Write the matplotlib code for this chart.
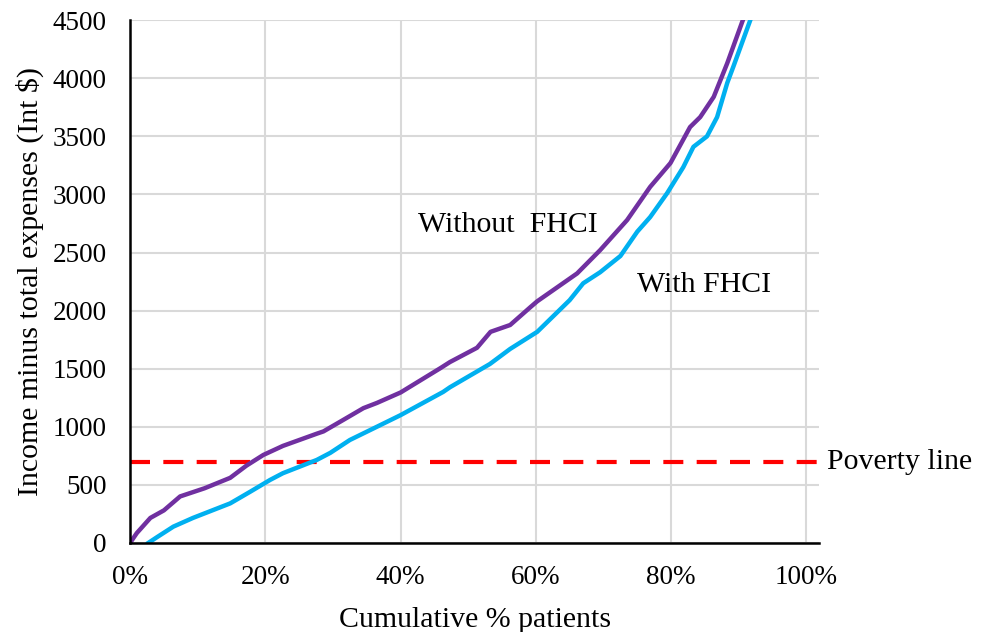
import numpy as np
import matplotlib
matplotlib.use('Agg')
import matplotlib.pyplot as plt
from matplotlib.ticker import FuncFormatter

plt.rcParams['font.family'] = ['Liberation Serif', 'DejaVu Serif']

# cumulative % of patients vs income minus total expenses
without_x = [0, 1, 3, 5, 7.4, 11, 14.8, 17.2, 19.7, 22.6, 27.6, 28.6, 31.5, 34.5, 36.5,
             40, 45.9, 47.3, 51.3, 53.3, 56.2, 59.2, 60.2, 66.1, 69.5, 73.5, 76.9, 79.9,
             82.8, 84.3, 86.3, 88.3, 90.6]
without_y = [0, 85, 215, 280, 400, 470, 560, 665, 757, 835, 940, 960, 1058, 1160, 1205,
             1295, 1505, 1557, 1680, 1817, 1876, 2030, 2080, 2320, 2520, 2780, 3065, 3270,
             3580, 3666, 3840, 4130, 4500]

with_x = [2.7, 4, 6.4, 9.3, 14.8, 17.75, 20.7, 22.6, 27.6, 29.6, 32.5, 36.5, 40, 46.3, 47.3,
          53.2, 56.2, 60.2, 65, 67, 69.5, 72.5, 75, 76.9, 79.4, 81.8, 83.3, 85.3, 86.8,
          88.3, 89.2, 91.7]
with_y = [0, 50, 140, 215, 340, 440, 542, 600, 714, 775, 886, 1000, 1100, 1300, 1340,
          1540, 1670, 1817, 2090, 2235, 2330, 2470, 2680, 2805, 3010, 3235, 3410, 3500, 3666,
          3960, 4100, 4500]

poverty_line = 700

fig = plt.figure(figsize=(9.93, 6.32), dpi=100)
ax = fig.add_axes([0.131, 0.141, 0.694, 0.827])

ax.plot(without_x, without_y, color='#7030A0', lw=3.2, solid_joinstyle='round', zorder=3)
ax.plot(with_x, with_y, color='#00B0F0', lw=3.2, solid_joinstyle='round', zorder=3)
ax.axhline(poverty_line, color='#FF0000', lw=3.0, ls=(0, (4.8, 3.2)), zorder=2)

ax.set_xlim(0, 101.9)
ax.set_ylim(0, 4500)
ax.set_xticks([0, 20, 40, 60, 80, 100])
ax.set_yticks(np.arange(0, 4501, 500))
ax.xaxis.set_major_formatter(FuncFormatter(lambda v, p: '%d%%' % v))
ax.grid(True, color='#D9D9D9', lw=1.5, zorder=0)
ax.set_axisbelow(True)

for s in ['top', 'right']:
    ax.spines[s].set_visible(False)
for s in ['left', 'bottom']:
    ax.spines[s].set_linewidth(1.8)
    ax.spines[s].set_zorder(4)

ax.tick_params(axis='both', length=0, labelsize=19.5)
ax.tick_params(axis='x', pad=16)
ax.tick_params(axis='y', pad=17)

ax.set_xlabel('Cumulative % patients', fontsize=21.5, labelpad=12)
ax.set_ylabel('Income minus total expenses (Int $)', fontsize=21.5, labelpad=6)

ax.text(42.5, 2740, 'Without  FHCI', fontsize=21.5, ha='left', va='center')
ax.text(74.9, 2220, 'With FHCI', fontsize=21.5, ha='left', va='center')
ax.text(103, poverty_line, 'Poverty line', fontsize=21.5, ha='left', va='center', clip_on=False)

fig.savefig('out.png', dpi=100)
